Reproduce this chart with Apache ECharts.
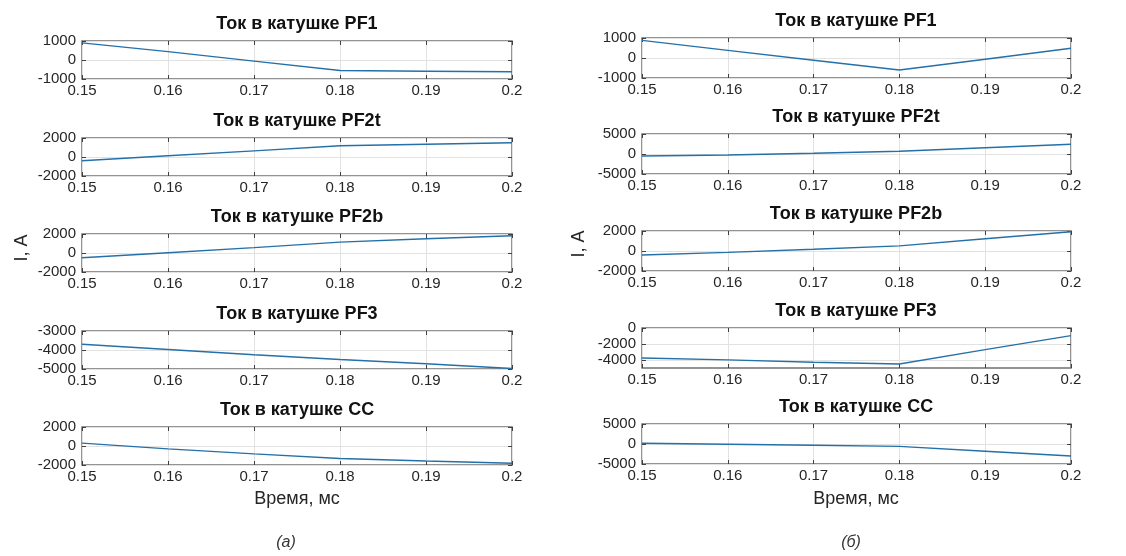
<!DOCTYPE html>
<html lang="ru">
<head>
<meta charset="utf-8">
<title>Токи в катушках</title>
<script src="https://cdn.jsdelivr.net/npm/echarts@6/dist/echarts.min.js"></script>
<style>
html, body { margin: 0; background: #fff; }
#chart { width: 1126px; height: 556px; }
</style>
</head>
<body>
<div id="chart"></div>
<script>
var times = [0.15, 0.16, 0.17, 0.18, 0.19, 0.2];
var titles = ['Ток в катушке PF1', 'Ток в катушке PF2t', 'Ток в катушке PF2b', 'Ток в катушке PF3', 'Ток в катушке CC'];

// (а)
var pf1A = [900, 440, -60, -550, -590, -620];
var pf2tA = [-400, 130, 650, 1180, 1340, 1500];
var pf2bA = [-500, 30, 570, 1140, 1500, 1820];
var pf3A = [-3700, -3970, -4250, -4500, -4720, -4970];
var ccA = [300, -300, -830, -1320, -1580, -1810];

// (б)
var pf1B = [880, 380, -110, -600, -60, 490];
var pf2tB = [-500, -250, 170, 670, 1580, 2420];
var pf2bB = [-400, -140, 170, 510, 1230, 1920];
var pf3B = [-3750, -3980, -4290, -4500, -2700, -950];
var ccB = [170, -80, -330, -600, -1800, -3000];

// y ticks per panel
var ticksA = [[-1000, 0, 1000], [-2000, 0, 2000], [-2000, 0, 2000], [-5000, -4000, -3000], [-2000, 0, 2000]];
var ticksB = [[-1000, 0, 1000], [-5000, 0, 5000], [-2000, 0, 2000], [-4000, -2000, 0], [-5000, 0, 5000]];
var rangeB = [[-1000, 1000], [-5000, 5000], [-2000, 2000], [-5000, 0], [-5000, 5000]];

var sides = [
    {data: [pf1A, pf2tA, pf2bA, pf3A, ccA], ticks: ticksA, range: null,
     left: 82, right: 614, tops: [41, 138, 234, 331, 427], h: 38, cx: 297, capX: 286, caption: '(а)'},
    {data: [pf1B, pf2tB, pf2bB, pf3B, ccB], ticks: ticksB, range: rangeB,
     left: 642, right: 55, tops: [38, 134, 231, 328, 424], h: 40, cx: 856, capX: 851, caption: '(б)'}
];

var lineColor = '#2470a8';
var boxColor = '#707070';
var tickColor = '#404040';
var gridColor = '#e2e2e2';
var textColor = '#262626';
var font = 'Liberation Sans, Arial, sans-serif';

function plain(v) { return String(v); }

var grids = [], xAxes = [], yAxes = [], series = [], graphics = [];

sides.forEach(function (side) {
    for (var i = 0; i < 5; i++) {
        var g = grids.length;
        var ymin = side.range ? side.range[i][0] : side.ticks[i][0];
        var ymax = side.range ? side.range[i][1] : side.ticks[i][2];
        grids.push({
            left: side.left, right: side.right, top: side.tops[i], height: side.h,
            show: true, borderColor: boxColor, borderWidth: 1.5, backgroundColor: '#fff'
        });
        xAxes.push({
            type: 'value', gridIndex: g, min: 0.15, max: 0.2, interval: 0.01,
            axisLine: {show: false, onZero: false},
            axisTick: {inside: true, length: 4, lineStyle: {color: tickColor}},
            axisLabel: {margin: 4, fontSize: 15, fontFamily: font, color: textColor, formatter: plain},
            splitLine: {show: true, lineStyle: {color: gridColor}}
        });
        xAxes.push({
            type: 'value', gridIndex: g, position: 'top', min: 0.15, max: 0.2, interval: 0.01,
            axisLine: {show: false, onZero: false},
            axisTick: {inside: true, length: 4, lineStyle: {color: tickColor}},
            axisLabel: {show: false}, splitLine: {show: false}
        });
        yAxes.push({
            type: 'value', gridIndex: g, min: ymin, max: ymax,
            axisLine: {show: false, onZero: false},
            axisTick: {inside: true, length: 4, customValues: side.ticks[i], lineStyle: {color: tickColor}},
            axisLabel: {margin: 6, fontSize: 15, fontFamily: font, color: textColor,
                        customValues: side.ticks[i], formatter: plain},
            splitLine: {show: true, lineStyle: {color: gridColor}}
        });
        yAxes.push({
            type: 'value', gridIndex: g, position: 'right', min: ymin, max: ymax,
            axisLine: {show: false, onZero: false},
            axisTick: {inside: true, length: 4, customValues: side.ticks[i], lineStyle: {color: tickColor}},
            axisLabel: {show: false}, splitLine: {show: false}
        });
        series.push({
            type: 'line', xAxisIndex: 2 * g, yAxisIndex: 2 * g,
            data: times.map(function (t, k) { return [t, side.data[i][k]]; }),
            showSymbol: false, silent: true,
            lineStyle: {color: lineColor, width: 1.4}
        });
        graphics.push({
            type: 'text', x: side.cx, y: side.tops[i] - 17,
            style: {text: titles[i], font: 'bold 18px ' + font, fill: '#111',
                    textAlign: 'center', textVerticalAlign: 'middle', align: 'center', verticalAlign: 'middle'}
        });
    }
    graphics.push({
        type: 'text', x: side.cx, y: 499,
        style: {text: 'Время, мс', font: '18px ' + font, fill: textColor,
                textAlign: 'center', textVerticalAlign: 'middle', align: 'center', verticalAlign: 'middle'}
    });
    graphics.push({
        type: 'text', x: side.capX, y: 543,
        style: {text: side.caption, font: 'italic 16px ' + font, fill: '#333',
                textAlign: 'center', textVerticalAlign: 'middle', align: 'center', verticalAlign: 'middle'}
    });
});

graphics.push({
    type: 'text', x: 22, y: 248, rotation: Math.PI / 2,
    style: {text: 'I, A', font: '18px ' + font, fill: textColor,
            textAlign: 'center', textVerticalAlign: 'middle', align: 'center', verticalAlign: 'middle'}
});
graphics.push({
    type: 'text', x: 579, y: 244, rotation: Math.PI / 2,
    style: {text: 'I, A', font: '18px ' + font, fill: textColor,
            textAlign: 'center', textVerticalAlign: 'middle', align: 'center', verticalAlign: 'middle'}
});

var chart = echarts.init(document.getElementById('chart'));
chart.setOption({
    animation: false,
    backgroundColor: '#fff',
    grid: grids,
    xAxis: xAxes,
    yAxis: yAxes,
    series: series,
    graphic: graphics
});
window.onresize = chart.resize;
</script>
</body>
</html>
